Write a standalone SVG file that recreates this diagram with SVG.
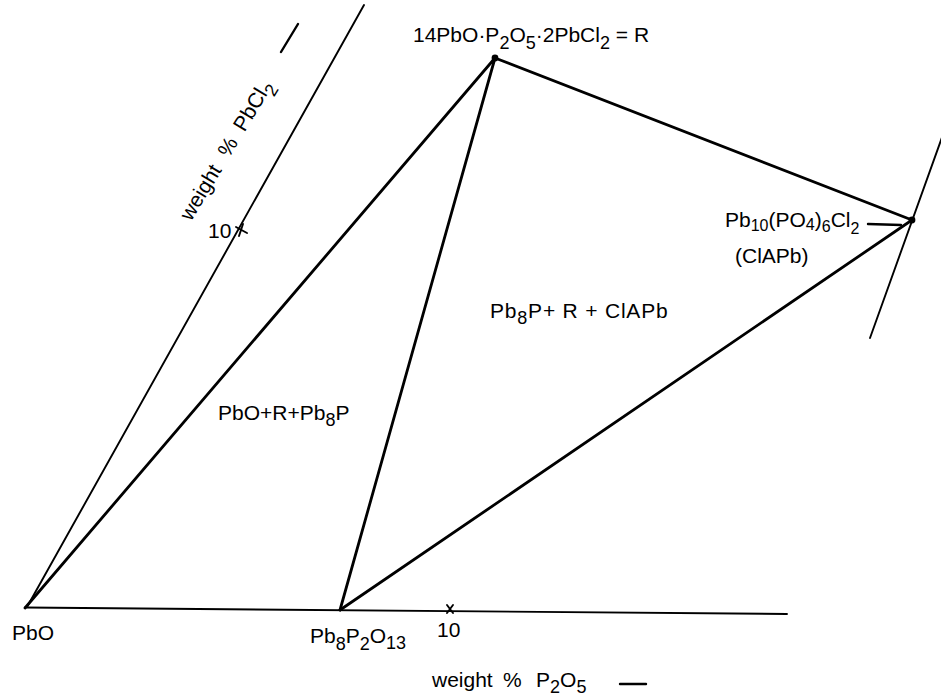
<svg xmlns="http://www.w3.org/2000/svg" width="941" height="697" viewBox="0 0 941 697">
<style>
text{font-family:"Liberation Sans","DejaVu Sans",Arial,sans-serif;font-size:21px;fill:#000}
.s{font-size:18px}
.ax{stroke:#000;stroke-width:1.9;fill:none;stroke-linecap:round}
.tie{stroke:#000;stroke-width:2.8;fill:none;stroke-linecap:round}
.ld{stroke:#000;stroke-width:2.4;fill:none;stroke-linecap:round}
</style>
<rect width="941" height="697" fill="#fff"/>
<g id="axes">
<line class="ax" x1="25" y1="607.5" x2="787" y2="614"/>
<line class="ax" x1="27" y1="607" x2="364" y2="5"/>
<line class="ax" x1="945" y1="129" x2="870" y2="338"/>
<path class="ax" d="M447 605 L453 613 M453 605 L447 613"/>
<path class="ax" d="M236 227 L247 233 M243 224 L239 236"/>
</g>
<g id="connectors">
<line class="tie" x1="25" y1="608" x2="495" y2="58"/>
<line class="tie" x1="340" y1="610" x2="495" y2="58"/>
<line class="tie" x1="495" y1="58" x2="912" y2="220"/>
<line class="tie" x1="340" y1="610" x2="912" y2="220"/>
<line class="ld" x1="868" y1="224" x2="901" y2="225"/>
<line class="ld" x1="620" y1="684" x2="646" y2="684"/>
<line class="ld" x1="281" y1="52" x2="298" y2="24"/>
</g>
<g id="node-R">
<circle cx="495" cy="58" r="3.4"/>
<text x="413" y="42">14PbO·P<tspan class="s" dy="7">2</tspan><tspan dy="-7">O</tspan><tspan class="s" dy="7">5</tspan><tspan dy="-7">·2PbCl</tspan><tspan class="s" dy="7">2</tspan><tspan dy="-7"> = R</tspan></text>
</g>
<g id="node-ClAPb">
<circle cx="912" cy="220" r="3.4"/>
<text x="725" y="227" font-size="20">Pb<tspan font-size="16" dy="4">10</tspan><tspan dy="-4">(PO</tspan><tspan font-size="16" dy="3">4</tspan><tspan dy="-3">)</tspan><tspan font-size="16" dy="5">6</tspan><tspan dy="-5">Cl</tspan><tspan font-size="16" dy="7">2</tspan></text>
<text x="735" y="263">(ClAPb)</text>
</g>
<g id="node-PbO">
<text x="12" y="640" font-size="20">PbO</text>
</g>
<g id="node-Pb8P2O13">
<text x="310" y="643" font-size="20">Pb<tspan class="s" dy="7">8</tspan><tspan dy="-7">P</tspan><tspan class="s" dy="7">2</tspan><tspan dy="-7">O</tspan><tspan class="s" dy="6">13</tspan></text>
</g>
<g id="region-labels">
<text x="490" y="318" letter-spacing="0.8">Pb<tspan class="s" dy="6">8</tspan><tspan dy="-6">P+ R + ClAPb</tspan></text>
<text x="218" y="420">PbO+R+Pb<tspan class="s" dy="6">8</tspan><tspan dy="-6">P</tspan></text>
</g>
<g id="axis-labels">
<text x="437" y="637" font-size="20">10</text>
<text x="208" y="238" font-size="20">10</text>
<text y="687" font-size="20"><tspan x="432">weight</tspan><tspan x="503">%</tspan><tspan x="536">P</tspan><tspan class="s" dy="6">2</tspan><tspan dy="-6">O</tspan><tspan class="s" dy="6">5</tspan></text>
<text transform="translate(191,222) rotate(-59)" font-size="21"><tspan x="0">weight</tspan><tspan x="74">%</tspan><tspan x="104">PbCl</tspan><tspan class="s" dy="7">2</tspan></text>
</g>
</svg>
